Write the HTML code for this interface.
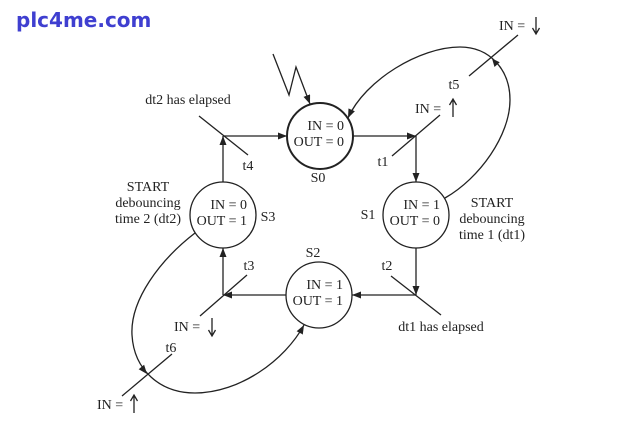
<!DOCTYPE html>
<html><head><meta charset="utf-8"><style>
html,body{margin:0;padding:0;background:#fff;}
svg{display:block;}
text{font-family:"Liberation Serif",serif;font-size:14px;fill:#222;}
</style></head><body>
<svg width="633" height="428" viewBox="0 0 633 428" xmlns="http://www.w3.org/2000/svg">
<defs>
<marker id="a" viewBox="0 0 9 7" refX="9" refY="3.5" markerWidth="9" markerHeight="7" orient="auto" markerUnits="userSpaceOnUse"><path d="M0,0 L9,3.5 L0,7 z" fill="#222"/></marker>
</defs>
<text x="16" y="27" style="font-family:'DejaVu Sans',sans-serif;font-weight:bold;font-size:20px;fill:#3f3fd0;">plc4me.com</text>

<g stroke="#222" stroke-width="1.3" fill="none">
<circle cx="320" cy="136" r="33" stroke-width="2"/>
<circle cx="416" cy="215" r="33"/>
<circle cx="319" cy="295" r="33"/>
<circle cx="223" cy="215" r="33"/>

<!-- S0 -> S1 -->
<line x1="353" y1="136" x2="416" y2="136" marker-end="url(#a)"/>
<line x1="416" y1="136" x2="416" y2="182" marker-end="url(#a)"/>
<line x1="392" y1="156" x2="440" y2="115"/>
<!-- S1 -> S2 -->
<line x1="416" y1="248" x2="416" y2="295" marker-end="url(#a)"/>
<line x1="416" y1="295" x2="352" y2="295" marker-end="url(#a)"/>
<line x1="391" y1="276" x2="441" y2="315"/>
<!-- S2 -> S3 -->
<line x1="286" y1="295" x2="223" y2="295" marker-end="url(#a)"/>
<line x1="223" y1="295" x2="223" y2="248" marker-end="url(#a)"/>
<line x1="200" y1="316" x2="247" y2="275"/>
<!-- S3 -> S0 -->
<line x1="223" y1="182" x2="223" y2="136" marker-end="url(#a)"/>
<line x1="223" y1="136" x2="287" y2="136" marker-end="url(#a)"/>
<line x1="199" y1="116" x2="248" y2="155"/>

<!-- lightning reset -->
<path d="M273,54 L289,95 L296,67 L310,104" marker-end="url(#a)"/>

<!-- t5 arc -->
<path d="M445,198 C480,178 510,135 510,100 C510,70 490,47 460,47 C420,47 365,80 348,118" marker-end="url(#a)"/>
<line x1="469" y1="76" x2="518" y2="35"/>
<!-- t6 arc -->
<path d="M195,233 C160,260 130,300 132,335 C134,370 160,393 195,393 C240,393 285,360 304,325" marker-end="url(#a)"/>
<line x1="122" y1="396" x2="172" y2="354"/>

<!-- IN arrows -->
<path d="M453,117 L453,99 M449.5,105 L453,99 L456.5,105"/>
<path d="M536,17 L536,34 M532.5,28 L536,34 L539.5,28"/>
<path d="M212,318 L212,336 M208.5,330 L212,336 L215.5,330"/>
<path d="M134,413 L134,395 M130.5,401 L134,395 L137.5,401"/>
</g>
<polygon points="492,58.5 499.7,62.3 494.5,67" fill="#222"/>
<polygon points="147,374 138.7,369.2 144.1,364.8" fill="#222"/>

<!-- circle texts -->
<g text-anchor="end">
<text x="344" y="130">IN = 0</text>
<text x="344" y="146">OUT = 0</text>
<text x="440" y="209">IN = 1</text>
<text x="440" y="225">OUT = 0</text>
<text x="343" y="289">IN = 1</text>
<text x="343" y="305">OUT = 1</text>
<text x="247" y="209">IN = 0</text>
<text x="247" y="225">OUT = 1</text>
</g>

<g text-anchor="middle">
<text x="318" y="182">S0</text>
<text x="368" y="219">S1</text>
<text x="313" y="257">S2</text>
<text x="268" y="221">S3</text>
<text x="188" y="104">dt2 has elapsed</text>
<text x="441" y="331">dt1 has elapsed</text>
<text x="148" y="191">START</text>
<text x="148" y="207">debouncing</text>
<text x="148" y="223">time 2 (dt2)</text>
<text x="492" y="207">START</text>
<text x="492" y="223">debouncing</text>
<text x="492" y="239">time 1 (dt1)</text>
<text x="248" y="170">t4</text>
<text x="383" y="166">t1</text>
<text x="387" y="270">t2</text>
<text x="249" y="270">t3</text>
<text x="454" y="89">t5</text>
<text x="171" y="352">t6</text>
</g>
<text x="415" y="113">IN =</text>
<text x="499" y="30">IN =</text>
<text x="174" y="331">IN =</text>
<text x="97" y="409">IN =</text>
</svg>
</body></html>
